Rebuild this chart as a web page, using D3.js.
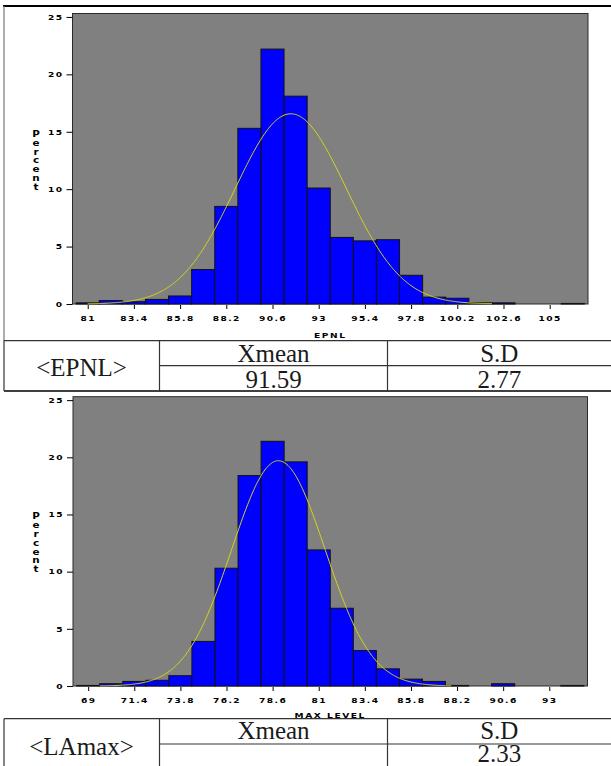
<!DOCTYPE html>
<html>
<head>
<meta charset="utf-8">
<script src="https://cdn.jsdelivr.net/npm/d3@7"></script>
<style>
  body { margin: 0; background: #fff; }
  svg { display: block; }
  .tick text { font-family: "DejaVu Sans", sans-serif; font-weight: bold; font-size: 7px; letter-spacing: 1.1px; fill: #000; }
  .tick line { stroke: #000; }
  .ttl { font-family: "DejaVu Sans", sans-serif; font-weight: bold; font-size: 7px; letter-spacing: 1.2px; fill: #000; }
  .ylab { font-family: "DejaVu Sans", sans-serif; font-weight: bold; font-size: 8px; fill: #000; }
  .cell { font-family: "Liberation Serif", "DejaVu Serif", serif; font-size: 25px; fill: #1a1a1a; }
</style>
</head>
<body>
<svg id="chart" width="611" height="766"></svg>
<script>
// Percent axis ticks shared by both histograms
const percentTicks = [0, 5, 10, 15, 20, 25];

// EPNL histogram: bin midpoints and percent of observations
const epnlMids = [81, 82.2, 83.4, 84.6, 85.8, 87, 88.2, 89.4, 90.6, 91.8, 93, 94.2,
                  95.4, 96.6, 97.8, 99, 100.2, 101.4, 102.6, 103.8, 105, 106.2];
const epnlPercent = [0.1, 0.3, 0.2, 0.4, 0.7, 3.0, 8.5, 15.3, 22.2, 18.1, 10.1, 5.8,
                     5.5, 5.6, 2.5, 0.6, 0.5, 0.1, 0.1, 0, 0, 0.05];
const epnlTicks = [81, 83.4, 85.8, 88.2, 90.6, 93, 95.4, 97.8, 100.2, 102.6, 105];
const epnlFit = [91.55, 2.89];        // fitted normal: mean, sd
const epnlCurveSpan = [81, 102];

// LAmax histogram
const lamaxMids = [69, 70.2, 71.4, 72.6, 73.8, 75, 76.2, 77.4, 78.6, 79.8, 81, 82.2,
                   83.4, 84.6, 85.8, 87, 88.2, 89.4, 90.6, 91.8, 93, 94.2];
const lamaxPercent = [0.05, 0.2, 0.4, 0.5, 0.9, 3.9, 10.3, 18.4, 21.4, 19.6, 11.9, 6.8,
                      3.1, 1.5, 0.6, 0.4, 0.05, 0, 0.2, 0, 0, 0.05];
const lamaxTicks = [69, 71.4, 73.8, 76.2, 78.6, 81, 83.4, 85.8, 88.2, 90.6, 93];
const lamaxFit = [78.9, 2.43];
const lamaxCurveSpan = [69.6, 87.9];

// Summary tables
const tableHeaders = ["Xmean", "S.D"];
const epnlStats = ["91.59", "2.77"];
const lamaxStats = ["", "2.33"];

const binWidth = 1.2;
const stretch = 1.3;   // wide lettering for the axis labels
const svg = d3.select("#chart");

function widen(sel) {
  sel.selectAll(".tick text").each(function () {
    const t = d3.select(this);
    t.attr("x", (+t.attr("x") || 0) / stretch).attr("transform", `scale(${stretch},1)`);
  });
}

function histogram(cfg) {
  const g = svg.append("g");
  const x = d3.scaleLinear()
    .domain([cfg.mids[0] - 0.79, cfg.mids[0] + 25.99])
    .range([cfg.left, cfg.right]);
  const y = d3.scaleLinear().domain([0, 25.3]).range([cfg.base, cfg.top]);

  // plot background
  g.append("rect")
    .attr("x", cfg.left).attr("y", cfg.top)
    .attr("width", cfg.right - cfg.left).attr("height", cfg.base - cfg.top)
    .attr("fill", "#808080").attr("stroke", "#2a2a2a").attr("stroke-width", 1);

  // bars
  g.selectAll("rect.bar")
    .data(cfg.mids.map((m, i) => ({ m, v: cfg.pct[i] })).filter(d => d.v > 0))
    .join("rect")
    .attr("class", "bar")
    .attr("x", d => x(d.m - binWidth / 2))
    .attr("width", d => x(d.m + binWidth / 2) - x(d.m - binWidth / 2))
    .attr("y", d => y(d.v))
    .attr("height", d => y(0) - y(d.v))
    .attr("fill", "#0000ff")
    .attr("stroke", "#111").attr("stroke-width", 1);

  // fitted normal curve, scaled to percent per bin
  const [mu, sd] = cfg.fit;
  const pts = d3.range(cfg.span[0], cfg.span[1] + 0.001, 0.05).map(v => [
    v, 100 * binWidth * Math.exp(-0.5 * ((v - mu) / sd) ** 2) / (sd * Math.sqrt(2 * Math.PI))
  ]);
  g.append("path")
    .attr("d", d3.line().x(d => x(d[0])).y(d => y(d[1]))(pts))
    .attr("fill", "none").attr("stroke", "#d6d61a").attr("stroke-width", 1);

  // axes
  g.append("g")
    .attr("transform", `translate(${cfg.left},0)`)
    .call(d3.axisLeft(y).tickValues(percentTicks).tickSize(6).tickPadding(3))
    .call(a => a.select(".domain").remove())
    .call(widen);
  g.append("g")
    .attr("transform", `translate(0,${cfg.base + 1})`)
    .call(d3.axisBottom(x).tickValues(cfg.ticks).tickSize(4).tickPadding(7).tickFormat(d => String(d)))
    .call(a => a.select(".domain").remove())
    .call(widen);

  // axis titles
  const cx = (cfg.left + cfg.right) / 2;
  g.append("text").attr("class", "ttl")
    .attr("x", cx / stretch).attr("y", cfg.titleY)
    .attr("transform", `scale(${stretch},1)`)
    .attr("text-anchor", "middle").text(cfg.title);
  const py = g.append("text").attr("class", "ylab").attr("text-anchor", "middle")
    .attr("transform", `scale(${stretch},1)`);
  "Percent".split("").forEach((ch, i) => {
    py.append("tspan").attr("x", 36 / stretch).attr("y", cfg.labelY + i * 8.8).text(ch);
  });
}

function line(x1, y1, x2, y2, color, w) {
  svg.append("line").attr("x1", x1).attr("y1", y1).attr("x2", x2).attr("y2", y2)
    .attr("stroke", color).attr("stroke-width", w);
}

function table(cfg) {
  const c1 = 159.5, c2 = 387.5, right = 611;
  line(4, cfg.top, right, cfg.top, "#333", 1.2);
  line(c1, cfg.mid, right, cfg.mid, "#333", 1.2);
  if (cfg.bottom) line(4, cfg.bottom, right, cfg.bottom, "#000", 1.5);
  const yb = cfg.bottom || 766;
  line(4, cfg.top, 4, yb, "#333", 1.2);
  line(c1, cfg.top, c1, yb, "#333", 1.2);
  line(c2, cfg.top, c2, yb, "#333", 1.2);
  svg.append("text").attr("class", "cell").attr("x", 81.5).attr("y", cfg.nameY)
    .attr("text-anchor", "middle").text(cfg.name);
  [[c1, c2], [c2, right]].forEach(([a, b], i) => {
    svg.append("text").attr("class", "cell").attr("x", (a + b) / 2).attr("y", cfg.headY)
      .attr("text-anchor", "middle").text(tableHeaders[i]);
    svg.append("text").attr("class", "cell").attr("x", (a + b) / 2).attr("y", cfg.valY)
      .attr("text-anchor", "middle").text(cfg.stats[i]);
  });
}

// outer frame of the upper panel
line(3, 6, 611, 6, "#000", 2);
line(4, 6, 4, 341, "#777", 1.2);

histogram({ mids: epnlMids, pct: epnlPercent, ticks: epnlTicks, fit: epnlFit, span: epnlCurveSpan,
  left: 72.5, right: 588, top: 13.5, base: 304, title: "EPNL", titleY: 338, labelY: 137 });
table({ top: 340.7, mid: 365.7, bottom: 391, name: "<EPNL>", nameY: 375.5,
  headY: 361.5, valY: 388.3, stats: epnlStats });

histogram({ mids: lamaxMids, pct: lamaxPercent, ticks: lamaxTicks, fit: lamaxFit, span: lamaxCurveSpan,
  left: 73, right: 587.5, top: 396.7, base: 686, title: "MAX LEVEL", titleY: 718, labelY: 519.5 });
table({ top: 718.7, mid: 744, bottom: null, name: "<LAmax>", nameY: 755,
  headY: 739.3, valY: 762, stats: lamaxStats });
</script>
</body>
</html>
